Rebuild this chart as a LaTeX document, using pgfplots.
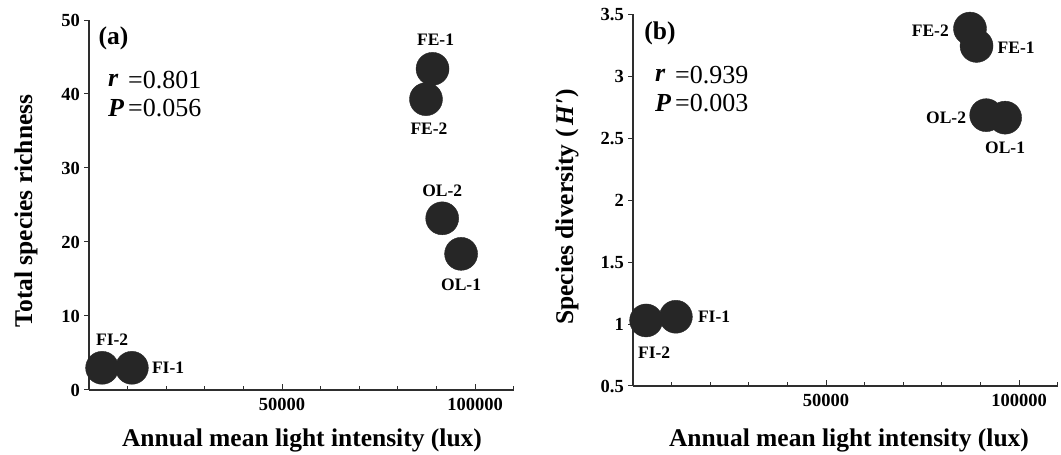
\documentclass[border=0pt]{standalone}
\usepackage{fontspec}
\setmainfont{Liberation Serif}
\usepackage{pgfplots}
\pgfplotsset{compat=1.18}
\definecolor{dot}{HTML}{262626}
\definecolor{ink}{HTML}{2E2E2E}
\begin{document}
\begin{tikzpicture}
\path (0pt,0pt) rectangle (1061pt,455pt);
\pgfplotsset{
  panel/.style={
    scale only axis, width=424.6pt,
    axis x line=bottom, axis y line=left,
    axis line style={-, line width=1.2pt, ink},
    xmin=0, xmax=110000, scaled x ticks=false,
    xtick={50000,100000}, xticklabels={50000,100000},
    minor xtick={10000,20000,...,110000},
    tick align=inside,
    major tick length=6pt, minor tick length=4pt,
    every tick/.style={ink, line width=1pt},
    y tick style={xshift=-5pt},
    tick label style={font=\fontsize{18.5}{20}\selectfont\bfseries},
    xticklabel style={inner sep=0pt, anchor=north, yshift=-8pt},
    yticklabel style={inner sep=0pt, anchor=east, xshift=-9pt},
    clip=false,
  },
  dots/.style={only marks, mark=*, mark size=16.5pt,
    mark options={fill=dot, draw=dot}},
}
\tikzset{big/.style={font=\fontsize{25.5}{27}\selectfont\bfseries, inner sep=0pt},
  stat/.style={font=\fontsize{26}{27}\selectfont, inner sep=0pt, anchor=west},
  lab/.style={font=\fontsize{17.5}{18}\selectfont\bfseries, inner sep=0pt}}

% (a) total species richness
\begin{axis}[panel, at={(89pt,65pt)}, anchor=south west, height=370pt,
  ymin=0, ymax=50, ytick={0,10,20,30,40,50}, yticklabels={0,10,20,30,40,50}]
\addplot[dots] coordinates {
  (3400,3) (11100,3) (87300,39.3) (89000,43.4) (91500,23.2) (96400,18.4)
};
\node[lab, xshift=10pt, yshift=28pt] at (axis cs:3400,3) {FI-2};
\node[lab, anchor=west, xshift=20pt] at (axis cs:11100,3) {FI-1};
\node[lab, xshift=3pt, yshift=29pt] at (axis cs:89000,43.4) {FE-1};
\node[lab, xshift=3pt, yshift=-30pt] at (axis cs:87300,39.3) {FE-2};
\node[lab, yshift=28pt] at (axis cs:91500,23.2) {OL-2};
\node[lab, yshift=-31pt] at (axis cs:96400,18.4) {OL-1};
\end{axis}

% (b) species diversity
\begin{axis}[panel, at={(633pt,69pt)}, anchor=south west, height=371pt,
  ymin=0.5, ymax=3.5, ytick={0.5,1,1.5,2,2.5,3,3.5},
  yticklabels={0.5,1,1.5,2,2.5,3,3.5}]
\addplot[dots] coordinates {
  (3400,1.03) (11100,1.06) (87300,3.39) (89000,3.25) (91500,2.69) (96400,2.67)
};
\node[lab, xshift=8pt, yshift=-32pt] at (axis cs:3400,1.03) {FI-2};
\node[lab, anchor=west, xshift=22pt] at (axis cs:11100,1.06) {FI-1};
\node[lab, anchor=east, xshift=-21pt, yshift=-2pt] at (axis cs:87300,3.39) {FE-2};
\node[lab, anchor=west, xshift=21pt, yshift=-2pt] at (axis cs:89000,3.25) {FE-1};
\node[lab, anchor=east, xshift=-20pt, yshift=-3pt] at (axis cs:91500,2.69) {OL-2};
\node[lab, yshift=-30pt] at (axis cs:96400,2.67) {OL-1};
\end{axis}

% axis titles and panel text
\node[big] at (302pt,15pt) {Annual mean light intensity (lux)};
\node[big] at (849pt,15pt) {Annual mean light intensity (lux)};
\node[big, rotate=90] at (26pt,244pt) {Total species richness};
\node[big, rotate=90] at (567pt,248pt) {Species diversity (\,\textit{H}′)};

\node[big] at (113.5pt,417pt) {(a)};
\node[stat] at (108pt,375pt) {\textbf{\textit{r}}};
\node[stat] at (128pt,375pt) {=0.801};
\node[stat] at (108pt,347pt) {\textbf{\textit{P}}};
\node[stat] at (128pt,347pt) {=0.056};

\node[big] at (660pt,422pt) {(b)};
\node[stat] at (655pt,380pt) {\textbf{\textit{r}}};
\node[stat] at (675pt,380pt) {=0.939};
\node[stat] at (655pt,352pt) {\textbf{\textit{P}}};
\node[stat] at (675pt,352pt) {=0.003};
\end{tikzpicture}
\end{document}
